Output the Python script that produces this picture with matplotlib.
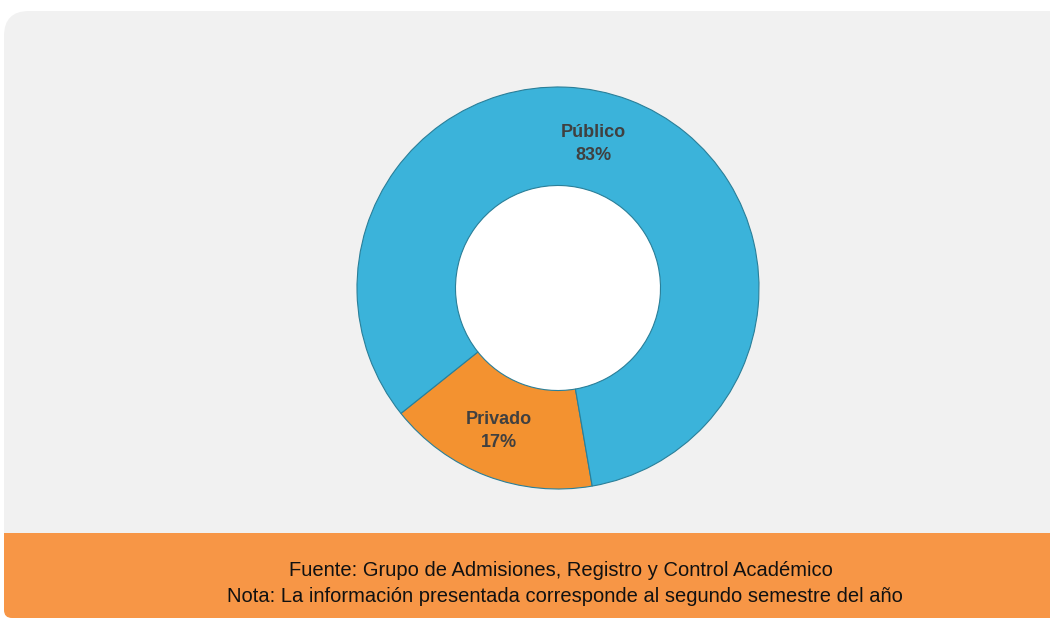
import numpy as np
import matplotlib.pyplot as plt
from matplotlib.patches import FancyBboxPatch, Rectangle, Circle

# data
labels = ['Privado', 'Público']
shares = [17, 83]
colors = ['#F39230', '#3BB3DA']

source_note = 'Fuente: Grupo de Admisiones, Registro y Control Académico'
extra_note = 'Nota: La información presentada corresponde al segundo semestre del año'

W, H = 1050, 618
fig = plt.figure(figsize=(W / 100, H / 100), dpi=100)
fig.patch.set_facecolor('white')

# background panel + orange footer (pixel coords, y down)
bg = fig.add_axes([0, 0, 1, 1])
bg.set_xlim(0, W)
bg.set_ylim(H, 0)
bg.axis('off')
bg.add_patch(FancyBboxPatch((4 + 25, 11 + 25), W + 40, 560, boxstyle='round,pad=25',
                            fc='#F1F1F1', ec='none'))
bg.add_patch(FancyBboxPatch((4 + 8, 533 + 8), W, H - 533 - 16, boxstyle='round,pad=8',
                            fc='#F79646', ec='none'))
bg.add_patch(Rectangle((4, 533), W, 20, fc='#F79646', ec='none'))

fam = ['Liberation Sans Narrow', 'Liberation Sans', 'DejaVu Sans']
bg.text(561, 571, source_note, ha='center', va='center', fontsize=14.5,
        family=fam, color='#111111')
bg.text(565, 597, extra_note, ha='center', va='center', fontsize=14.5,
        family=fam, color='#111111')

# donut
cx, cy, R = 558, 288, 201
ax = fig.add_axes([(cx - R) / W, (H - cy - R) / H, 2 * R / W, 2 * R / H])

wedges, _ = ax.pie(shares, colors=colors, startangle=-141.4, counterclock=True,
                   radius=1, wedgeprops=dict(width=0.49, edgecolor='#2A7F99',
                                             linewidth=0.8))
ax.add_patch(Circle((0, 0), 0.51, fc='white', ec='none', zorder=0))
ax.set_xlim(-1, 1)
ax.set_ylim(-1, 1)
ax.axis('off')

# small nudges of the labels away from the wedge mid-angle
nudges = [(-0.03, -0.01), (-0.09, 0.015)]
for w, lab, val, (dx, dy) in zip(wedges, labels, shares, nudges):
    mid = np.deg2rad((w.theta1 + w.theta2) / 2)
    r = 0.75
    ax.text(r * np.cos(mid) + dx, r * np.sin(mid) + dy, f'{lab}\n{val}%',
            ha='center', va='center', fontsize=13, fontweight='bold',
            color='#404040', family=fam, linespacing=1.45)

fig.savefig('out.png', dpi=100)
